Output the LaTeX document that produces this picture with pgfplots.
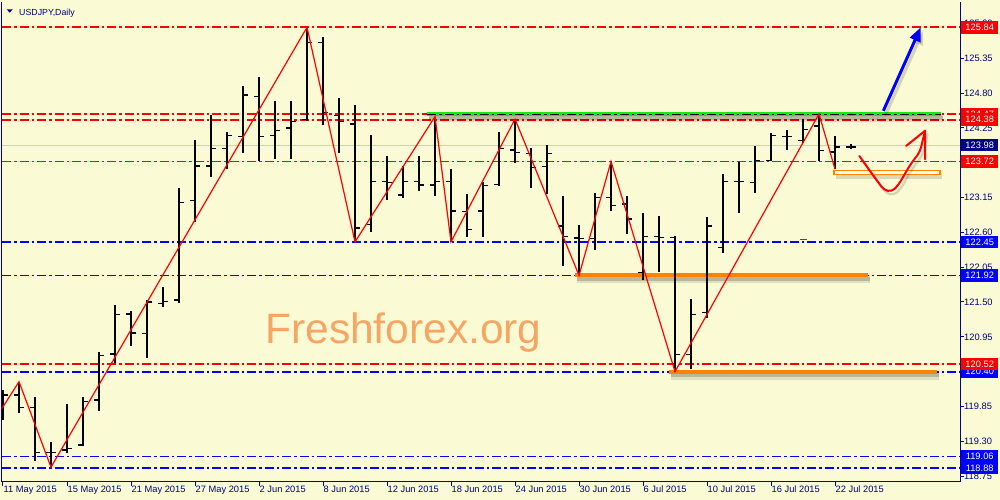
\documentclass[border=0pt]{standalone}
\usepackage{fontspec}
\setmainfont{Liberation Sans}
\usepackage{pgfplots}
\pgfplotsset{compat=1.18}
\usepackage{pgfplotstable}
\usetikzlibrary{arrows.meta}

\definecolor{bg}{RGB}{250,250,212}
\definecolor{navyt}{RGB}{0,0,128}
\definecolor{frame}{RGB}{0,0,160}
\definecolor{mtred}{RGB}{255,0,0}
\definecolor{mtblue}{RGB}{0,0,255}
\definecolor{mtgreen}{RGB}{20,235,20}
\definecolor{mtorange}{RGB}{255,130,0}
\definecolor{wm}{RGB}{245,166,100}
\definecolor{bidgray}{RGB}{205,205,205}

\newcommand{\lab}{\fontsize{9.3}{10}\selectfont}

\pgfdeclareplotmark{otick}{\pgfpathmoveto{\pgfqpoint{-4.7pt}{0pt}}\pgfpathlineto{\pgfqpoint{0.5pt}{0pt}}\pgfusepathqstroke}
\pgfdeclareplotmark{ctick}{\pgfpathmoveto{\pgfqpoint{-0.5pt}{0pt}}\pgfpathlineto{\pgfqpoint{4.7pt}{0pt}}\pgfusepathqstroke}

\tikzset{
  redline/.style={draw=mtred, line width=1.8pt, dash pattern=on 9pt off 3pt on 2.5pt off 3pt},
  blueline/.style={draw=mtblue, line width=1.8pt, dash pattern=on 9pt off 3pt on 2.5pt off 3pt},
}

\pgfplotstableread{
i o h l c
0 120.03 120.11 119.64 120.03
1 120.03 120.24 119.74 119.83
2 119.83 120.00 118.99 119.12
3 119.12 119.29 118.89 119.12
4 119.16 119.89 119.11 119.18
5 119.24 120.00 119.23 119.93
6 119.95 120.71 119.78 120.65
7 120.68 121.45 120.54 121.30
8 121.31 121.35 120.81 121.01
9 121.00 121.53 120.61 121.50
10 121.48 121.74 121.42 121.51
11 121.53 123.30 121.48 123.07
12 123.10 124.06 122.76 123.65
13 123.65 124.45 123.48 123.93
14 123.93 124.18 123.60 124.13
15 124.11 124.91 123.85 124.77
16 124.75 125.05 123.73 124.11
17 124.13 124.68 123.76 124.21
18 124.25 124.68 123.76 124.35
19 124.38 125.84 124.36 125.60
20 125.60 125.68 124.29 124.49
21 124.45 124.73 123.85 124.35
22 124.31 124.61 122.45 122.67
23 122.73 124.14 122.61 123.40
24 123.40 123.81 123.11 123.39
25 123.19 123.65 123.14 123.40
26 123.40 123.80 123.26 123.35
27 123.35 124.43 123.18 123.40
28 123.40 123.60 122.45 122.94
29 122.93 123.21 122.53 122.65
30 122.94 123.40 122.53 123.34
31 123.36 124.18 123.33 123.93
32 123.90 124.39 123.70 123.86
33 123.85 123.94 123.30 123.63
34 123.64 123.98 123.21 123.85
35 122.70 123.18 122.07 122.53
36 122.51 122.72 121.92 122.50
37 122.50 123.22 122.32 123.15
38 123.15 123.72 122.93 123.03
39 123.05 123.18 122.57 122.81
40 121.97 122.90 121.84 122.54
41 122.54 122.86 121.98 122.52
42 122.52 122.55 120.40 120.67
43 120.67 121.54 120.44 121.30
44 121.33 122.85 121.25 122.70
45 122.36 123.52 122.27 123.40
46 123.40 123.71 122.90 123.40
47 123.39 123.97 123.23 123.74
48 123.74 124.17 123.73 124.13
49 124.11 124.22 123.90 124.11
50 124.05 124.39 124.01 124.23
51 124.28 124.47 123.73 123.89
52 123.87 124.13 123.60 123.95
53 123.95 124.00 123.91 123.95
}\bars

\pgfplotstableread{
x y
-1 119.45
1 120.24
3 118.89
19 125.84
22 122.45
27 124.43
28 122.45
32 124.39
36 121.92
38 123.72
42 120.40
51 124.47
52 123.60
}\zigzag

\newcommand{\pbox}[2]{\node[fill=#1, text=white, font=\lab, inner sep=0pt, minimum width=37pt, minimum height=12.5pt, anchor=west] at ([xshift=1pt]axis cs:59.8125,#2) {#2};}

\begin{document}
\begin{tikzpicture}
\fill[bg] (0,0) rectangle (1000pt,500pt);
\useasboundingbox (0,0) rectangle (1000pt,500pt);
\begin{axis}[
  at={(2pt,18pt)}, anchor=south west,
  scale only axis, width=958pt, height=480pt,
  xmin=-0.0625, xmax=59.8125, ymin=118.656, ymax=126.24,
  clip mode=individual,
  axis x line*=bottom, axis y line*=right,
  axis line style={-, frame, line width=1pt},
  xtick={0,4,...,52},
  xticklabels={11 May 2015,15 May 2015,21 May 2015,27 May 2015,2 Jun 2015,8 Jun 2015,12 Jun 2015,18 Jun 2015,24 Jun 2015,30 Jun 2015,6 Jul 2015,10 Jul 2015,16 Jul 2015,22 Jul 2015},
  ytick={118.75,119.30,119.85,120.40,120.95,121.50,122.05,122.60,123.15,123.70,124.25,124.80,125.35,125.90},
  yticklabels={118.75,119.30,119.85,120.40,120.95,121.50,122.05,122.60,123.15,123.70,124.25,124.80,125.35,125.90},
  tick align=outside, major tick length=4pt,
  tick style={frame, line width=1pt},
  xticklabel style={anchor=north west, inner sep=0pt, font=\lab, text=navyt, xshift=0.5pt},
  yticklabel style={anchor=west, inner sep=0pt, font=\lab, text=navyt},
]
% left frame
\draw[frame, line width=1pt] (rel axis cs:0,0) -- (rel axis cs:0,1);

% watermark
\node[anchor=base west, inner sep=0pt, font=\fontsize{42.5}{50}\selectfont, text=wm] at (16.38,120.847) {Freshforex.org};

\draw[bidgray, line width=1pt] (-0.06,123.98) -- (59.81,123.98);

% horizontal price lines
\draw[redline] (-0.06,125.84) -- (59.81,125.84);
\draw[redline] (-0.06,124.38) -- (59.81,124.38);
\draw[redline] (-0.06,123.72) -- (59.81,123.72);
\draw[redline] (-0.06,120.52) -- (59.81,120.52);
\draw[blueline] (-0.06,122.45) -- (59.81,122.45);
\draw[blueline] (-0.06,121.92) -- (59.81,121.92);
\draw[blueline] (-0.06,120.40) -- (59.81,120.40);
\draw[blueline] (-0.06,119.06) -- (59.81,119.06);
\draw[blueline] (-0.06,118.88) -- (59.81,118.88);
\draw[redline] (-0.06,124.47) -- (59.81,124.47);

% shadows of drawn objects
\draw[black, opacity=0.10, line width=8pt] ([xshift=2pt,yshift=-4pt]26.5,124.47) -- ([xshift=2pt,yshift=-4pt]58.6,124.47);
\draw[black, opacity=0.18, line width=4pt] ([xshift=2pt,yshift=-3.5pt]26.5,124.47) -- ([xshift=2pt,yshift=-3.5pt]58.6,124.47);
\draw[black, opacity=0.10, line width=8pt] ([xshift=2pt,yshift=-4pt]35.75,121.92) -- ([xshift=2pt,yshift=-4pt]54.06,121.92);
\draw[black, opacity=0.18, line width=4pt] ([xshift=2pt,yshift=-3.5pt]35.75,121.92) -- ([xshift=2pt,yshift=-3.5pt]54.06,121.92);
\draw[black, opacity=0.10, line width=8pt] ([xshift=2pt,yshift=-4pt]41.63,120.40) -- ([xshift=2pt,yshift=-4pt]58.38,120.40);
\draw[black, opacity=0.18, line width=4pt] ([xshift=2pt,yshift=-3.5pt]41.63,120.40) -- ([xshift=2pt,yshift=-3.5pt]58.38,120.40);
\draw[black, opacity=0.13, line width=6pt] ([xshift=2pt,yshift=-3.5pt]51.94,123.546) -- ([xshift=2pt,yshift=-3.5pt]58.56,123.546);

% green resistance line
\addplot[mtgreen, line width=4pt] coordinates {(26.5,124.47) (58.6,124.47)};
\addplot[black, line width=1pt, dash pattern=on 9pt off 3pt on 2.5pt off 3pt] coordinates {(26.5,124.47) (58.6,124.47)};

% orange support lines
\addplot[mtorange, line width=4pt] coordinates {(35.75,121.92) (54.06,121.92)};
\addplot[mtorange, line width=4pt] coordinates {(41.63,120.40) (58.38,120.40)};
\draw[mtorange, line width=1.3pt, fill=bg!40!white] (51.94,123.574) rectangle (58.56,123.518);

% stray mark
\addplot[black!70, line width=0.8pt] coordinates {(49.8,122.495) (50.25,122.495)};

% OHLC bars
\addplot[black, line width=1.3pt, quiver={u=0, v=\thisrow{h}-\thisrow{l}}] table[x=i, y=l] {\bars};
\addplot[black, only marks, clip marker paths=true, mark=otick, mark options={line width=1.3pt, solid}] table[x=i, y=o] {\bars};
\addplot[black, only marks, clip marker paths=true, mark=ctick, mark options={line width=1.3pt, solid}] table[x=i, y=c] {\bars};

% zigzag
\addplot[mtred, line width=1.2pt] table[x=x, y=y] {\zigzag};

% blue arrow
\draw[black, opacity=0.15, line width=3pt, -{Triangle[length=14pt,width=11pt]}] ([xshift=2.5pt,yshift=-3.5pt]55.02,124.52) -- ([xshift=2.5pt,yshift=-3.5pt]57.36,125.84);
\draw[mtblue, line width=3pt, -{Triangle[length=14pt,width=11pt]}] (55.02,124.52) -- (57.36,125.84);

% red hand-drawn arrow
\begin{scope}[xshift=2.5pt, yshift=-3.5pt]
\draw[black, opacity=0.15, line width=2.2pt, rounded corners=4pt, line join=round, line cap=round] (53.52,123.807) -- (54.29,123.533) -- (55.06,123.27) -- (55.54,123.243) -- (55.96,123.348) -- (56.69,123.664) -- (57.31,123.875) -- (57.63,124.206);
\end{scope}
\draw[mtred, line width=2pt, rounded corners=4pt, line join=round, line cap=round] (53.52,123.807) -- (54.29,123.533) -- (55.06,123.27) -- (55.54,123.243) -- (55.96,123.348) -- (56.69,123.664) -- (57.31,123.875) -- (57.63,124.206);
\draw[mtred, line width=2pt, line join=round, line cap=round] (56.44,123.965) -- (57.63,124.206) -- (57.63,123.754);

% price labels
\pbox{mtred}{125.84}
\pbox{mtred}{124.47}
\pbox{mtred}{124.38}
\pbox{navyt}{123.98}
\pbox{mtred}{123.72}
\pbox{mtblue}{122.45}
\pbox{mtblue}{121.92}
\pbox{mtblue}{120.40}
\pbox{mtred}{120.52}
\pbox{mtblue}{119.06}
\pbox{mtblue}{118.88}
\end{axis}
% title
\fill[navyt] (6.7pt,490.7pt) -- (12.7pt,490.7pt) -- (9.7pt,487.3pt) -- cycle;
\node[anchor=base west, inner sep=0pt, font=\fontsize{8.8}{10}\selectfont, text=navyt] at (19pt,484.8pt) {USDJPY,Daily};
\end{tikzpicture}
\end{document}
